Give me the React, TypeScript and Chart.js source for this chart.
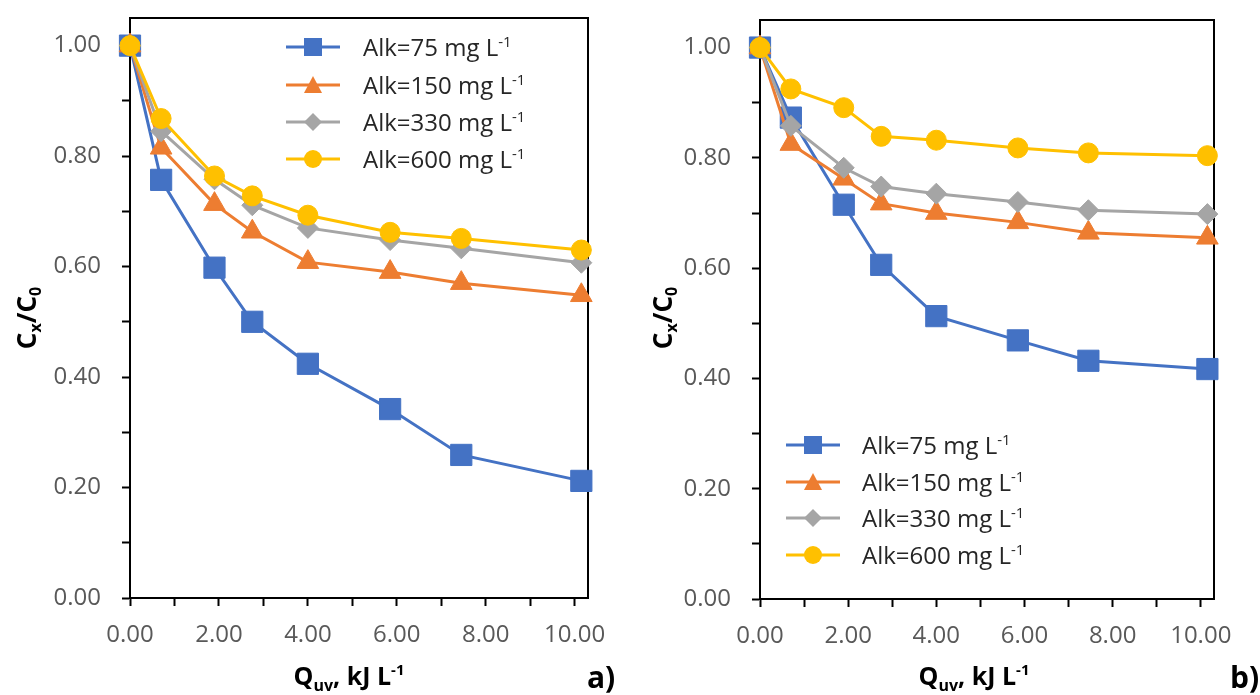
import React, { useEffect, useRef } from 'react';
import { Chart, registerables } from 'chart.js';

Chart.register(...registerables);

// ---- data ----
const qUv = [0, 0.7, 1.9, 2.75, 4.0, 5.85, 7.45, 10.15];
const alkLabels = ['Alk=75', 'Alk=150', 'Alk=330', 'Alk=600'];

const panelA75 = [1.0, 0.757, 0.598, 0.5, 0.424, 0.342, 0.259, 0.212];
const panelA150 = [1.0, 0.815, 0.713, 0.663, 0.608, 0.59, 0.57, 0.548];
const panelA330 = [1.0, 0.845, 0.758, 0.711, 0.67, 0.648, 0.633, 0.607];
const panelA600 = [1.0, 0.868, 0.764, 0.728, 0.693, 0.662, 0.651, 0.63];

const panelB75 = [1.0, 0.873, 0.715, 0.606, 0.513, 0.469, 0.432, 0.417];
const panelB150 = [1.0, 0.825, 0.762, 0.717, 0.7, 0.683, 0.664, 0.655];
const panelB330 = [1.0, 0.858, 0.782, 0.748, 0.735, 0.72, 0.705, 0.698];
const panelB600 = [1.0, 0.925, 0.891, 0.839, 0.832, 0.818, 0.809, 0.804];

// tick positions (majors are labelled, minors are unlabelled)
const xTicks = [0, 1, 2, 3, 4, 5, 6, 7, 8, 9, 10];
const xLabelled = [0, 2, 4, 6, 8, 10];
const yTicks = [0, 0.1, 0.2, 0.3, 0.4, 0.5, 0.6, 0.7, 0.8, 0.9, 1.0];
const yLabelled = [0, 0.2, 0.4, 0.6, 0.8, 1.0];
const yMax = 1.05;
const xMax = 10.3;

// ---- styles ----
const colors = ['#4472C4', '#ED7D31', '#A5A5A5', '#FFC000'];
const pointStyles = ['rect', 'triangle', 'rectRot', 'circle'];
const pointRadii = [15, 12.5, 10.5, 10];
const legendSizes = [18, 18, 18, 18];
const FONT = "'Open Sans', 'Noto Sans', sans-serif";
const W = 630;
const H = 695;

type Seg = { t: string; size: number; dy: number };

function drawRich(ctx: CanvasRenderingContext2D, segs: Seg[], x: number, y: number, align: 'center' | 'left', weight: string, color: string) {
  const widths = segs.map((s) => {
    ctx.font = `${weight} ${s.size}px ${FONT}`;
    return ctx.measureText(s.t).width;
  });
  const total = widths.reduce((a, b) => a + b, 0);
  let cx = align === 'center' ? x - total / 2 : x;
  ctx.fillStyle = color;
  ctx.textBaseline = 'alphabetic';
  ctx.textAlign = 'left';
  segs.forEach((s, i) => {
    ctx.font = `${weight} ${s.size}px ${FONT}`;
    ctx.fillText(s.t, cx, y + s.dy);
    cx += widths[i];
  });
}

function drawMarker(ctx: CanvasRenderingContext2D, style: string, x: number, y: number, size: number, color: string) {
  ctx.fillStyle = color;
  ctx.beginPath();
  const h = size / 2;
  if (style === 'rect') ctx.rect(x - h, y - h, size, size);
  else if (style === 'triangle') {
    ctx.moveTo(x, y - h);
    ctx.lineTo(x + h, y + h - 1);
    ctx.lineTo(x - h, y + h - 1);
    ctx.closePath();
  } else if (style === 'rectRot') {
    ctx.moveTo(x, y - h);
    ctx.lineTo(x + h, y);
    ctx.lineTo(x, y + h);
    ctx.lineTo(x - h, y);
    ctx.closePath();
  } else ctx.arc(x, y, h, 0, Math.PI * 2);
  ctx.fill();
}

type PanelSpec = {
  series: number[][];
  area: { left: number; right: number; top: number; bottom: number };
  legend: { lineX: number; textX: number; rows: number[] };
  xTitleCenter: number;
  yTitleX: number;
  yTitleY: number;
  panelLabel: string;
  panelLabelX: number;
};

const specA: PanelSpec = {
  series: [panelA75, panelA150, panelA330, panelA600],
  area: { left: 130, right: 588, top: 18, bottom: 598 },
  legend: { lineX: 286, textX: 363, rows: [47, 85, 122, 159] },
  xTitleCenter: 349,
  yTitleX: 36,
  yTitleY: 318,
  panelLabel: 'a)',
  panelLabelX: 587,
};

const specB: PanelSpec = {
  series: [panelB75, panelB150, panelB330, panelB600],
  area: { left: 130, right: 584, top: 20, bottom: 599 },
  legend: { lineX: 156, textX: 232, rows: [445, 482, 518, 555] },
  xTitleCenter: 344,
  yTitleX: 42,
  yTitleY: 318,
  panelLabel: 'b)',
  panelLabelX: 600,
};

const isIn = (arr: number[], v: number) => arr.some((a) => Math.abs(a - v) < 1e-6);

function Panel({ spec }: { spec: PanelSpec }) {
  const ref = useRef<HTMLCanvasElement>(null);
  useEffect(() => {
    const { area } = spec;
    const decor = {
      id: 'decor',
      beforeDatasetsDraw(chart: any) {
        const ctx = chart.ctx as CanvasRenderingContext2D;
        const ca = chart.chartArea;
        ctx.save();
        ctx.strokeStyle = '#000';
        ctx.lineWidth = 2;
        ctx.strokeRect(ca.left, ca.top, ca.right - ca.left, ca.bottom - ca.top);
        ctx.restore();
      },
      afterDraw(chart: any) {
        const ctx = chart.ctx as CanvasRenderingContext2D;
        ctx.save();
        // legend
        spec.legend.rows.forEach((ry, i) => {
          ctx.strokeStyle = colors[i];
          ctx.lineWidth = 3;
          ctx.beginPath();
          ctx.moveTo(spec.legend.lineX, ry);
          ctx.lineTo(spec.legend.lineX + 54, ry);
          ctx.stroke();
          drawMarker(ctx, pointStyles[i], spec.legend.lineX + 27, ry, legendSizes[i], colors[i]);
          drawRich(
            ctx,
            [
              { t: alkLabels[i] + ' mg L', size: 24, dy: 0 },
              { t: '-1', size: 15, dy: -9 },
            ],
            spec.legend.textX,
            ry + 8.5,
            'left',
            'normal',
            '#262626'
          );
        });
        // x title
        drawRich(
          ctx,
          [
            { t: 'Q', size: 25, dy: 0 },
            { t: 'uv', size: 16, dy: 6 },
            { t: ', kJ L', size: 25, dy: 0 },
            { t: '-1', size: 15, dy: -10 },
          ],
          spec.xTitleCenter,
          685,
          'center',
          'bold',
          '#000'
        );
        // y title
        ctx.save();
        ctx.translate(spec.yTitleX, spec.yTitleY);
        ctx.rotate(-Math.PI / 2);
        drawRich(
          ctx,
          [
            { t: 'C', size: 26, dy: 0 },
            { t: 'x', size: 16, dy: 5 },
            { t: '/C', size: 26, dy: 0 },
            { t: '0', size: 16, dy: 5 },
          ],
          0,
          0,
          'center',
          'bold',
          '#000'
        );
        ctx.restore();
        // panel label
        ctx.font = `bold 30px ${FONT}`;
        ctx.fillStyle = '#000';
        ctx.textAlign = 'left';
        ctx.textBaseline = 'alphabetic';
        ctx.fillText(spec.panelLabel, spec.panelLabelX, 688);
        ctx.restore();
      },
    };

    const datasets = spec.series.map((vals, i) => ({
      label: alkLabels[i] + ' mg L-1',
      data: qUv.map((x, j) => ({ x, y: vals[j] })),
      borderColor: colors[i],
      backgroundColor: colors[i],
      borderWidth: 3,
      pointStyle: pointStyles[i],
      pointRadius: pointRadii[i],
      pointBorderWidth: 1,
      pointBorderColor: colors[i],
      pointBackgroundColor: colors[i],
      tension: 0,
      clip: false as any,
      order: 3 - i,
    }));

    const tickFont = { family: FONT, size: 24 };

    const chart = new Chart(ref.current!, {
      type: 'line',
      data: { datasets },
      options: {
        animation: false,
        responsive: false,
        events: [],
        layout: { padding: { left: 0, top: area.top, right: W - area.right, bottom: 0 } },
        plugins: { legend: { display: false }, tooltip: { enabled: false }, title: { display: false } },
        scales: {
          x: {
            type: 'linear',
            min: 0,
            max: xMax,
            afterBuildTicks: (s: any) => {
              s.ticks = xTicks.map((v) => ({ value: v }));
            },
            afterFit: (s: any) => {
              s.height = H - area.bottom;
              s.paddingLeft = 0;
              s.paddingRight = 0;
            },
            ticks: {
              autoSkip: false,
              maxRotation: 0,
              padding: 15,
              color: '#595959',
              font: tickFont,
              callback: (v: any) => (isIn(xLabelled, Number(v)) ? Number(v).toFixed(2) : ''),
            },
            grid: { drawOnChartArea: false, drawTicks: true, tickLength: 8, tickColor: '#000', tickWidth: 2 },
            border: { display: true, color: '#000', width: 2 },
          },
          y: {
            type: 'linear',
            min: 0,
            max: yMax,
            afterBuildTicks: (s: any) => {
              s.ticks = yTicks.map((v) => ({ value: v }));
            },
            afterFit: (s: any) => {
              s.width = area.left;
              s.paddingTop = 0;
              s.paddingBottom = 0;
            },
            ticks: {
              autoSkip: false,
              padding: 21,
              color: '#595959',
              font: tickFont,
              callback: (v: any) => (isIn(yLabelled, Number(v)) ? Number(v).toFixed(2) : ''),
            },
            grid: { drawOnChartArea: false, drawTicks: true, tickLength: 8, tickColor: '#000', tickWidth: 2 },
            border: { display: true, color: '#000', width: 2 },
          },
        },
      },
      plugins: [decor],
    } as any);
    return () => chart.destroy();
  }, [spec]);
  return <canvas ref={ref} width={W} height={H} style={{ display: 'block', width: W, height: H }} />;
}

export default function App() {
  return (
    <div style={{ position: 'absolute', left: 0, top: 0, width: 1260, height: 695, background: '#fff', overflow: 'hidden' }}>
      <div style={{ position: 'absolute', left: 0, top: 0 }}>
        <Panel spec={specA} />
      </div>
      <div style={{ position: 'absolute', left: 630, top: 0 }}>
        <Panel spec={specB} />
      </div>
    </div>
  );
}
